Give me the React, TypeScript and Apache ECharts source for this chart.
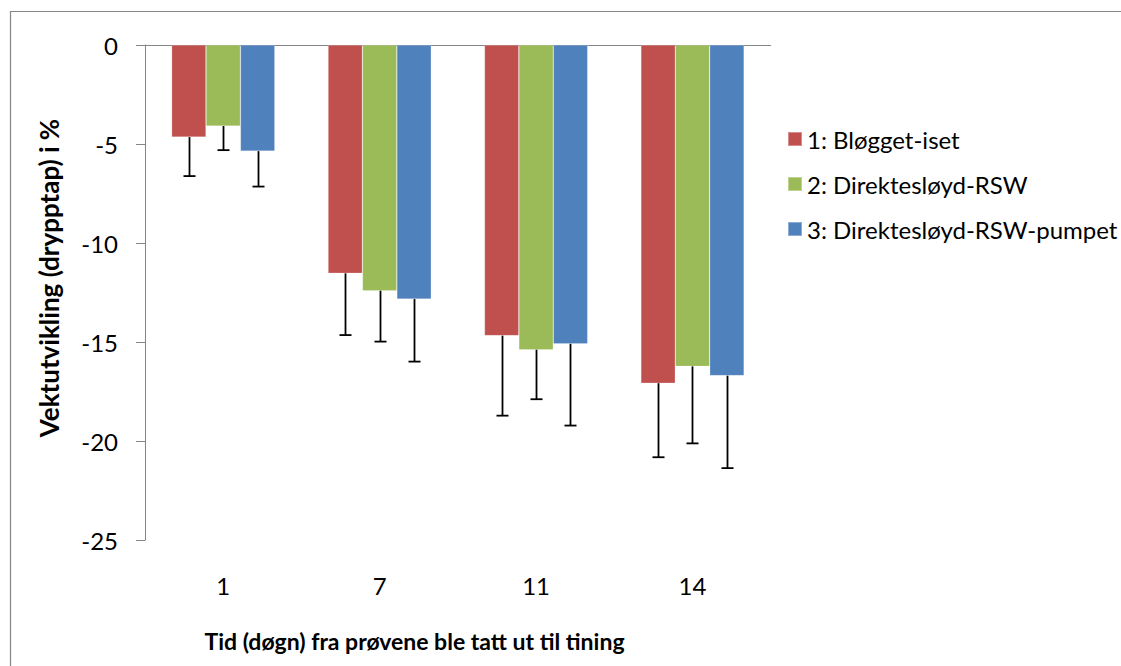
import React, { useEffect, useRef } from "react";
import * as echarts from "echarts";

const categories = ["1", "7", "11", "14"];
const seriesNames = ["1: Bløgget-iset", "2: Direktesløyd-RSW", "3: Direktesløyd-RSW-pumpet"];
const colors = ["#C0504D", "#9BBB59", "#4F81BD"];
const valuesBlogget = [-4.65, -11.53, -14.68, -17.08];
const valuesDirekte = [-4.09, -12.41, -15.39, -16.23];
const valuesPumpet = [-5.36, -12.83, -15.09, -16.7];
const errLowBlogget = [-6.62, -14.65, -18.72, -20.82];
const errLowDirekte = [-5.31, -14.98, -17.89, -20.12];
const errLowPumpet = [-7.15, -15.99, -19.22, -21.37];
const yTicks = { min: -25, max: 0, interval: 5 };

const FONT = "Lato, 'Noto Sans', sans-serif";
const AXIS = "#868686";
const CAT_GAP = 0.34;

export default function App() {
  const ref = useRef<HTMLDivElement>(null);
  useEffect(() => {
    document.body.style.margin = "0";
    const chart = echarts.init(ref.current!, null, { renderer: "svg" });
    const values = [valuesBlogget, valuesDirekte, valuesPumpet];
    const errs = [errLowBlogget, errLowDirekte, errLowPumpet];
    const barSeries = values.map((v, i) => ({
      name: seriesNames[i],
      type: "bar",
      data: v,
      xAxisIndex: 0,
      barGap: "0%",
      barCategoryGap: CAT_GAP * 100 + "%",
      itemStyle: { color: colors[i], borderColor: "rgba(255,255,255,0.35)", borderWidth: 0.6 },
    }));
    const errSeries = errs.map((e, si) => ({
      type: "custom",
      xAxisIndex: 0,
      silent: true,
      z: 5,
      data: e.map((low, ci) => [ci, values[si][ci], low]),
      renderItem: (params: any, api: any) => {
        const ci = api.value(0);
        const top = api.coord([ci, api.value(1)]);
        const bot = api.coord([ci, api.value(2)]);
        const band = api.size([1, 0])[0];
        const bw = (band * (1 - CAT_GAP)) / 3;
        const x = Math.round(top[0] + (si - 1) * bw) + 0.5;
        const style = { stroke: "#000", lineWidth: 1.8 };
        return {
          type: "group",
          children: [
            { type: "line", shape: { x1: x, y1: top[1], x2: x, y2: bot[1] }, style },
            { type: "line", shape: { x1: x - 6, y1: bot[1], x2: x + 6, y2: bot[1] }, style },
          ],
        };
      },
    }));
    chart.setOption({
      animation: false,
      backgroundColor: "#fff",
      textStyle: { fontFamily: FONT },
      grid: { left: 145, top: 45, width: 625.7, height: 495 },
      legend: {
        orient: "vertical",
        left: 782,
        top: 122,
        itemWidth: 14,
        itemHeight: 14,
        itemGap: 21,
        icon: "rect",
        data: seriesNames,
        textStyle: { fontFamily: FONT, fontSize: 24, color: "#000" },
      },
      xAxis: [
        {
          type: "category",
          data: categories,
          position: "top",
          axisLine: { onZero: false, lineStyle: { color: AXIS, width: 1 } },
          axisTick: { inside: true, length: 9, lineStyle: { color: AXIS } },
          axisLabel: { show: false },
        },
        {
          type: "category",
          data: categories,
          position: "bottom",
          axisLine: { show: false },
          axisTick: { show: false },
          axisLabel: { margin: 33, fontSize: 24, color: "#000", fontFamily: FONT },
        },
      ],
      yAxis: {
        type: "value",
        min: yTicks.min,
        max: yTicks.max,
        interval: yTicks.interval,
        axisLine: { show: true, lineStyle: { color: AXIS, width: 1 } },
        axisTick: { show: true, length: 9, lineStyle: { color: AXIS } },
        splitLine: { show: false },
        axisLabel: { margin: 27, fontSize: 24, color: "#000", fontFamily: FONT },
      },
      graphic: [
        {
          type: "rect",
          shape: { x: 10.5, y: 11.5, width: 1300, height: 800 },
          style: { fill: "none", stroke: AXIS, lineWidth: 1.2 },
          silent: true,
        },
        {
          type: "text",
          x: 414.5,
          y: 641,
          style: {
            text: "Tid (døgn) fra prøvene ble tatt ut til tining",
            fontFamily: FONT,
            fontWeight: "bold",
            fontSize: 23,
            fill: "#000",
            align: "center",
            verticalAlign: "middle",
          },
        },
        {
          type: "text",
          x: 49,
          y: 278,
          rotation: Math.PI / 2,
          style: {
            text: "Vektutvikling (drypptap) i %",
            fontFamily: FONT,
            fontWeight: "bold",
            fontSize: 26,
            fill: "#000",
            align: "center",
            verticalAlign: "middle",
          },
        },
      ],
      series: [...barSeries, ...errSeries],
    });
    return () => chart.dispose();
  }, []);
  return <div ref={ref} style={{ width: 1121, height: 666 }} />;
}
